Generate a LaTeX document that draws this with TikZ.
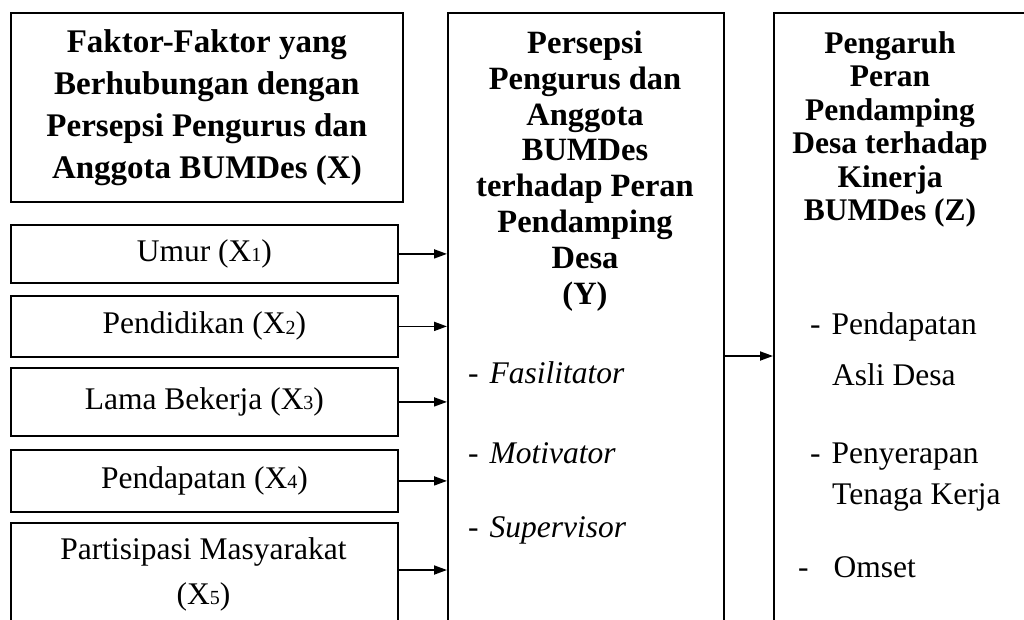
\documentclass[tikz,border=0pt]{standalone}
\usepackage{fontspec}
\setmainfont{Liberation Serif}
\usetikzlibrary{arrows.meta,calc}
\newcommand{\sbs}[1]{\raisebox{-0.5pt}{\fontsize{20}{20}\selectfont #1}}
\begin{document}
\begin{tikzpicture}[x=1pt,y=-1pt,
  box/.style={draw,line width=1.8pt,rectangle,anchor=north west,inner sep=0pt},
  conn/.style={line width=1.8pt,-{Triangle[length=13pt,width=9pt]}},
  reg/.style={font=\fontsize{31.5}{38}\selectfont},
  txt/.style={inner sep=0pt}]
\useasboundingbox (0,0) rectangle (1024,619);
\clip (0,0) rectangle (1024,619);
% left column
\node[box,minimum width=392pt,minimum height=189pt,align=center,
      font=\fontsize{33}{42}\selectfont\bfseries] (hx) at (10,12)
  {Faktor-Faktor yang\\Berhubungan dengan\\Persepsi Pengurus dan\\Anggota BUMDes (X)};
\node[box,reg,minimum width=387pt,minimum height=58pt] (u1) at (10,224) {Umur (X\sbs{1})};
\node[box,reg,minimum width=387pt,minimum height=61pt] (u2) at (10,295) {Pendidikan (X\sbs{2})};
\node[box,reg,minimum width=387pt,minimum height=68pt] (u3) at (10,367) {Lama Bekerja (X\sbs{3})};
\node[box,reg,minimum width=387pt,minimum height=62pt] (u4) at (10,449) {Pendapatan (X\sbs{4})};
\node[box,minimum width=387pt,minimum height=130pt] (u5) at (10,522) {};
\node[txt,align=center,font=\fontsize{31.5}{45}\selectfont] (u5t) at (203.5,574)
  {Partisipasi Masyarakat\\(X\sbs{5})};
% middle column
\node[box,minimum width=276pt,minimum height=700pt] (mid) at (447,12) {};
\node[txt,align=center,font=\fontsize{32.5}{35.8}\selectfont\bfseries] (midt) at (585,171)
  {Persepsi\\Pengurus dan\\Anggota\\BUMDes\\terhadap Peran\\Pendamping\\Desa\\(Y)};
\node[txt,reg,anchor=west] (m1) at (468,373) {-\hspace{11pt}\textit{Fasilitator}};
\node[txt,reg,anchor=west] (m2) at (468,453) {-\hspace{11pt}\textit{Motivator}};
\node[txt,reg,anchor=west] (m3) at (468,530) {-\hspace{11pt}\textit{Supervisor}};
% right column
\node[box,minimum width=400pt,minimum height=700pt] (rt) at (773,12) {};
\node[txt,align=center,font=\fontsize{31.5}{33.4}\selectfont\bfseries] (rtt) at (890,129.5)
  {Pengaruh\\Peran\\Pendamping\\Desa terhadap\\Kinerja\\BUMDes (Z)};
\node[txt,reg,anchor=west] (r1a) at (810,327) {-\hspace{11pt}Pendapatan};
\node[txt,reg,anchor=west] (r1b) at (832,375) {Asli Desa};
\node[txt,reg,anchor=west] (r2a) at (810,457) {-\hspace{11pt}Penyerapan};
\node[txt,reg,anchor=west] (r2b) at (832,497) {Tenaga Kerja};
\node[txt,reg,anchor=west] (r3) at (798,567) {-\hspace{25pt}Omset};
% connectors
\foreach \n in {u1,u2,u3,u4}{
  \draw[conn] (\n.east) -- (\n.east -| mid.west);
}
\draw[conn] ([yshift=-48pt]u5.north east) -- ([yshift=-48pt]u5.north east -| mid.west);
\draw[conn] ([yshift=-344pt]mid.north east) -- ([yshift=-344pt]mid.north east -| rt.west);
\end{tikzpicture}
\end{document}
